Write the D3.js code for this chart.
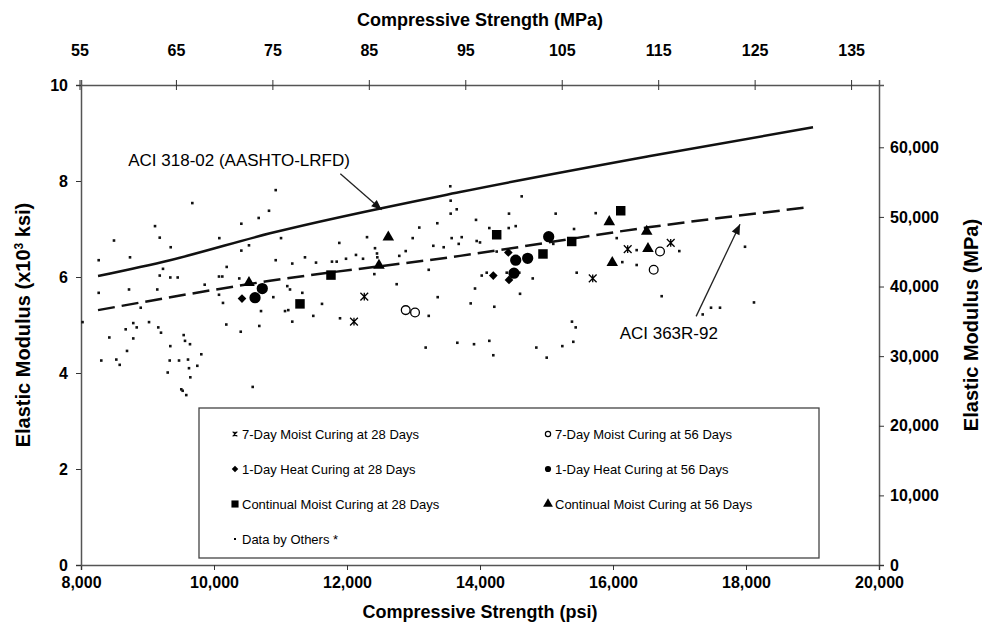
<!DOCTYPE html>
<html lang="en">
<head>
  <meta charset="UTF-8">
  <title>Elastic Modulus vs Compressive Strength</title>
  <script src="https://cdn.jsdelivr.net/npm/d3@7"></script>
</head>
<body style="margin:0;background:#fff">
<style>
  text { font-family: "Liberation Sans", Arial, sans-serif; fill: #000; }
  .tick text { font-weight: bold; font-size: 16px; }
  .axis-title { font-weight: bold; font-size: 18px; }
  .axis-title.vert { font-size: 20px; }
  .legend text { font-size: 13px; }
  .note { font-size: 17px; }
</style>
<svg width="982" height="635"></svg>
<script>
// ---- data (psi, x10^3 ksi) ----
var moist7d28 = [[12260,5.59],[12105,5.07],[16221,6.58],[15695,5.97],[16868,6.71]];
var moist7d56 = [[12883,5.31],[13023,5.26],[16707,6.53],[16612,6.15]];
var heat1d28  = [[10421,5.55],[14426,6.51],[14200,6.03],[14436,5.94]];
var heat1d56  = [[10617,5.57],[10726,5.76],[15033,6.84],[14537,6.35],[14717,6.39],[14511,6.08]];
var contMoist28 = [[11759,6.04],[11293,5.44],[14251,6.88],[16116,7.38],[15379,6.74],[14947,6.48]];
var contMoist56 = [[10526,5.88],[12621,6.83],[12481,6.24],[15944,7.15],[15989,6.30],[16526,6.59],[16507,6.95]];
var others = [
  [9674,7.54],[9113,7.06],[8496,6.76],[9184,6.82],[9349,6.62],[8266,6.35],[8737,6.41],[10080,6.81],
  [10411,7.11],[10672,7.23],[10827,7.38],[10411,6.55],[10526,6.66],[10191,6.21],[9233,6.17],[9184,6.03],
  [9343,5.99],[9454,5.99],[10075,6.01],[10125,6.01],[10380,5.97],[8266,5.67],[8722,5.74],[9147,5.74],
  [9860,5.84],[10075,5.63],[10135,5.46],[10707,5.29],[8898,5.36],[8786,5.04],[8838,4.95],[9023,5.06],
  [8672,4.91],[9162,4.95],[9203,4.84],[8426,4.74],[8786,4.72],[10185,5.01],[10402,4.86],[10681,4.98],
  [9544,4.79],[9564,4.67],[9639,4.60],[9343,4.56],[8692,4.46],[9809,4.39],[8305,4.26],[8531,4.28],
  [8582,4.17],[9334,4.26],[9474,4.26],[9609,4.28],[9624,4.10],[9749,4.15],[9304,4.01],[9644,3.91],
  [9508,3.66],[9529,3.63],[9583,3.54],[10582,3.71],[10928,7.81],[13553,7.89],[13559,7.59],[13650,7.41],
  [13559,7.32],[11008,6.81],[12301,6.83],[13087,7.03],[13358,7.12],[12988,6.81],[13574,6.81],[13680,6.69],
  [11884,6.71],[12421,6.60],[12451,6.49],[12456,6.41],[12135,6.46],[12883,6.54],[13298,6.65],[13454,6.62],
  [10928,6.35],[11177,6.28],[11368,6.41],[11534,6.30],[11774,6.32],[11845,6.32],[11985,6.38],[12241,6.38],
  [12786,6.44],[11102,5.81],[11143,5.74],[11328,5.67],[10892,5.58],[11624,5.44],[11068,5.29],[11117,5.31],
  [11177,5.07],[11493,5.19],[11895,5.14],[12411,6.06],[12747,5.85],[13229,6.15],[13364,5.58],[13229,5.19],
  [13183,4.53],[13659,4.63],[14627,7.68],[14436,7.32],[15138,7.32],[15740,7.33],[13940,7.19],[14140,7.02],
  [14432,7.02],[14537,7.06],[15414,7.00],[13725,6.83],[13950,6.75],[14000,6.72],[15102,6.69],[16056,6.81],
  [14251,6.53],[16356,6.56],[16140,6.31],[16356,6.25],[14026,6.03],[14101,6.09],[14402,6.09],[14591,6.09],
  [14793,5.97],[15454,6.09],[13925,5.76],[13860,5.45],[14602,5.65],[14215,5.38],[15383,5.07],[15439,4.95],
  [15403,4.65],[15238,4.56],[14847,4.53],[15003,4.32],[13910,4.60],[14140,4.67],[14200,4.37],[16997,6.54],
  [17985,6.63],[16732,5.60],[17474,5.36],[17609,5.36],[17349,5.22],[18120,5.47],[8023,5.06]
];
var aci318Psi = [8256, 9338, 10842, 13700, 16558, 19008];
var aci318Ksi = [6.02, 6.35, 6.91, 7.77, 8.52, 9.12];
var aci363Psi = [8256, 10842, 13700, 16558, 18919];
var aci363Ksi = [5.31, 5.92, 6.44, 7.04, 7.45];

var psiTicks = [8000, 10000, 12000, 14000, 16000, 18000, 20000];
var mpaTicks = [55, 65, 75, 85, 95, 105, 115, 125, 135];
var ksiTicks = [0, 2, 4, 6, 8, 10];
var mpaModTicks = [0, 10000, 20000, 30000, 40000, 50000, 60000];

var legendLabels = [
  "7-Day Moist Curing at 28 Days", "7-Day Moist Curing at 56 Days",
  "1-Day Heat Curing at 28 Days", "1-Day Heat Curing at 56 Days",
  "Continual Moist Curing at 28 Days", "Continual Moist Curing at 56 Days",
  "Data by Others *"
];

// ---- layout ----
var svg = d3.select("svg");
var pLeft = 81, pRight = 879, pTop = 85, pBottom = 565;

var x = d3.scaleLinear().domain([8000, 20000]).range([pLeft, pRight]);
var y = d3.scaleLinear().domain([0, 10]).range([pBottom, pTop]);
// secondary axes (unit conversions)
var xMPa = d3.scaleLinear().domain([8000 / 145.038, 20000 / 145.038]).range([pLeft, pRight]);
var yMPa = d3.scaleLinear().domain([0, 10 * 6894.76]).range([pBottom, pTop]);

var fmt = d3.format(",");

svg.append("g").attr("transform", "translate(0," + pBottom + ")")
  .call(d3.axisBottom(x).tickValues(psiTicks).tickFormat(fmt).tickSize(5).tickPadding(7));
svg.append("g").attr("transform", "translate(" + pLeft + ",0)")
  .call(d3.axisLeft(y).tickValues(ksiTicks).tickSize(5).tickPadding(8));
var topAxis = svg.append("g").attr("transform", "translate(0," + pTop + ")")
  .call(d3.axisTop(xMPa).tickValues(mpaTicks).tickSize(5).tickPadding(24));
svg.append("g").attr("transform", "translate(" + pRight + ",0)")
  .call(d3.axisRight(yMPa).tickValues(mpaModTicks).tickFormat(fmt).tickSize(5).tickPadding(6));

svg.selectAll(".domain").attr("stroke", "#555").attr("stroke-width", 1.5);
svg.selectAll(".tick line").attr("stroke", "#333");
// top ticks cross the frame
topAxis.selectAll(".tick line").attr("y1", 5);

// axis titles
svg.append("text").attr("class", "axis-title").attr("x", (pLeft + pRight) / 2).attr("y", 26)
  .attr("text-anchor", "middle").text("Compressive Strength (MPa)");
svg.append("text").attr("class", "axis-title").attr("x", (pLeft + pRight) / 2).attr("y", 618)
  .attr("text-anchor", "middle").text("Compressive Strength (psi)");
var yt = svg.append("text").attr("class", "axis-title vert")
  .attr("transform", "translate(30," + (pTop + pBottom) / 2 + ") rotate(-90)")
  .attr("text-anchor", "middle");
yt.append("tspan").text("Elastic Modulus (x10");
yt.append("tspan").attr("dy", -7).attr("font-size", 12).text("3");
yt.append("tspan").attr("dy", 7).text(" ksi)");
svg.append("text").attr("class", "axis-title vert")
  .attr("transform", "translate(978," + (pTop + pBottom) / 2 + ") rotate(-90)")
  .attr("text-anchor", "middle").text("Elastic Modulus (MPa)");

// code curves
var line = d3.line().x(function(d) { return x(d[0]); }).y(function(d) { return y(d[1]); })
  .curve(d3.curveMonotoneX);
svg.append("path").datum(aci318Psi.map(function(p, i) { return [p, aci318Ksi[i]]; }))
  .attr("d", line).attr("fill", "none").attr("stroke", "#111").attr("stroke-width", 2.5);
svg.append("path").datum(aci363Psi.map(function(p, i) { return [p, aci363Ksi[i]]; }))
  .attr("d", line).attr("fill", "none").attr("stroke", "#111").attr("stroke-width", 2.5)
  .attr("stroke-dasharray", "17,7");

// data by others
svg.append("g").selectAll("rect").data(others).enter().append("rect")
  .attr("x", function(d) { return x(d[0]) - 1.3; })
  .attr("y", function(d) { return y(d[1]) - 1.3; })
  .attr("width", 2.6).attr("height", 2.6).attr("fill", "#111");

// symbols
var star = { draw: function(ctx, size) {
  var r = Math.sqrt(size) / 2;
  ctx.moveTo(-r, -r); ctx.lineTo(r, r);
  ctx.moveTo(r, -r); ctx.lineTo(-r, r);
  ctx.moveTo(0, -r); ctx.lineTo(0, r);
} };
var sym = {
  cross: d3.symbol().type(star).size(60),
  circle: d3.symbol().type(d3.symbolCircle).size(60),
  diamond: d3.symbol().type(d3.symbolDiamond2).size(48),
  dot: d3.symbol().type(d3.symbolCircle).size(100),
  square: d3.symbol().type(d3.symbolSquare).size(90),
  triangle: d3.symbol().type(d3.symbolTriangle).size(58)
};
function drawSet(data, s, open) {
  svg.append("g").selectAll("path").data(data).enter().append("path")
    .attr("transform", function(d) { return "translate(" + x(d[0]) + "," + y(d[1]) + ")"; })
    .attr("d", sym[s])
    .attr("fill", open ? "none" : "#000")
    .attr("stroke", "#000")
    .attr("stroke-width", open ? 1.3 : 0);
}
drawSet(moist7d28, "cross", true);
drawSet(moist7d56, "circle", true);
drawSet(heat1d28, "diamond", false);
drawSet(heat1d56, "dot", false);
drawSet(contMoist28, "square", false);
drawSet(contMoist56, "triangle", false);

// annotations
function arrow(x1, y1, x2, y2) {
  svg.append("line").attr("x1", x1).attr("y1", y1).attr("x2", x2).attr("y2", y2)
    .attr("stroke", "#222").attr("stroke-width", 1.3);
  var a = Math.atan2(y2 - y1, x2 - x1), L = 11, w = 0.4;
  svg.append("path")
    .attr("d", "M" + x2 + "," + y2 +
      "L" + (x2 - L * Math.cos(a - w)) + "," + (y2 - L * Math.sin(a - w)) +
      "L" + (x2 - L * Math.cos(a + w)) + "," + (y2 - L * Math.sin(a + w)) + "Z")
    .attr("fill", "#111");
}
svg.append("text").attr("class", "note").attr("x", x(8710)).attr("y", y(8.31))
  .text("ACI 318-02 (AASHTO-LRFD)");
arrow(x(11900), y(8.15), x(12520), y(7.4));
svg.append("text").attr("class", "note").attr("x", x(16100)).attr("y", y(4.71))
  .text("ACI 363R-92");
arrow(x(17250), y(5.18), x(17910), y(7.1));

// legend
var lg = svg.append("g").attr("class", "legend");
var lx0 = 199, ly0 = 408, lw = 620, lh = 150;
lg.append("rect").attr("x", lx0).attr("y", ly0).attr("width", lw).attr("height", lh)
  .attr("fill", "#fff").attr("stroke", "#444").attr("stroke-width", 1.3);
var legSyms = [["cross", true, 0.6], ["circle", true, 0.6], ["diamond", false, 0.75], ["dot", false, 0.55],
  ["square", false, 0.75], ["triangle", false, 0.85], [null, false, 0]];
legendLabels.forEach(function(lab, i) {
  var col = i % 2, row = Math.floor(i / 2);
  var mx = lx0 + 36 + col * 313, my = ly0 + 26 + row * 35;
  if (legSyms[i][0]) {
    var s = legSyms[i];
    lg.append("path").attr("transform", "translate(" + mx + "," + my + ") scale(" + s[2] + ")")
      .attr("d", sym[s[0]]).attr("fill", s[1] ? "none" : "#000").attr("stroke", "#000")
      .attr("stroke-width", s[1] ? 2 : 0);
  } else {
    lg.append("rect").attr("x", mx - 1).attr("y", my - 1).attr("width", 2).attr("height", 2).attr("fill", "#000");
  }
  lg.append("text").attr("x", mx + 7).attr("y", my + 5).text(lab);
});
</script>
</body>
</html>
